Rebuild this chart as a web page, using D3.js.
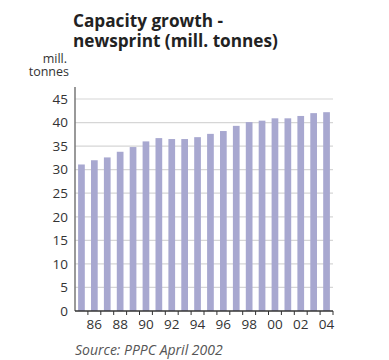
<!DOCTYPE html>
<html><head><meta charset="utf-8">
<script src="https://cdn.jsdelivr.net/npm/d3@7"></script>
<style>body{margin:0;background:#fff}svg{display:block}</style>
</head><body>
<svg id="c" width="389" height="360"></svg>
<script>
const years = [1985,1986,1987,1988,1989,1990,1991,1992,1993,1994,1995,1996,1997,1998,1999,2000,2001,2002,2003,2004];
const capacity = [31.1,32.0,32.6,33.8,34.8,36.0,36.7,36.5,36.5,36.9,37.6,38.2,39.3,40.1,40.4,40.9,40.9,41.4,42.0,42.2];
const yTicks = [0,5,10,15,20,25,30,35,40,45];
const xLabelYears = [1986,1988,1990,1992,1994,1996,1998,2000,2002,2004];
const titleLines = ["Capacity growth -", "newsprint (mill. tonnes)"];
const unitLines = ["mill.", "tonnes"];

(function(){
const svg = d3.select("#c");
const font = "'Open Sans', 'DejaVu Sans', sans-serif";
const pLeft = 75, pRight = 333, pTop = 87, pBottom = 311;

const x = d3.scaleBand().domain(years).range([pLeft, pRight]).paddingInner(0.48).paddingOuter(0.24);
const y = d3.scaleLinear().domain([0, 45]).range([pBottom, 99]);

// title (one text, two lines)
const t = svg.append("text").attr("x", 73).attr("y", 27).attr("font-family", font).attr("font-weight", "bold")
  .attr("font-size", 17.2).attr("fill", "#222");
t.selectAll("tspan").data(titleLines).join("tspan")
  .attr("x", 73).attr("dy", (d, i) => i ? 20 : 0).text(d => d);

// unit (one text, two lines)
const u = svg.append("text").attr("y", 63).attr("text-anchor", "end").attr("font-family", font)
  .attr("font-size", 12.5).attr("fill", "#333");
u.selectAll("tspan").data(unitLines).join("tspan")
  .attr("x", (d, i) => i ? 69 : 67).attr("dy", (d, i) => i ? 13 : 0).text(d => d);

// gridlines
svg.append("g").selectAll("line").data(yTicks.filter(d => d > 0)).join("line")
  .attr("x1", pLeft).attr("x2", pRight).attr("y1", d => y(d)).attr("y2", d => y(d))
  .attr("stroke", "#d6d6d6").attr("stroke-width", 1.2);

// bars
svg.append("g").selectAll("rect").data(years).join("rect")
  .attr("x", d => x(d)).attr("width", x.bandwidth())
  .attr("y", (d, i) => y(capacity[i])).attr("height", (d, i) => y(0) - y(capacity[i]))
  .attr("fill", "#a8a8d0");

// y axis
const yAxis = d3.axisLeft(y).tickValues(yTicks).tickSize(0).tickPadding(7);
const gy = svg.append("g").attr("transform", `translate(${pLeft},0)`).call(yAxis);
gy.select(".domain").remove();
gy.selectAll("text").attr("font-family", font).attr("font-size", 13.5).attr("fill", "#333");
svg.append("line").attr("x1", pLeft).attr("x2", pLeft).attr("y1", pTop).attr("y2", pBottom)
  .attr("stroke", "#777").attr("stroke-width", 1.5);

// x axis
const step = x.step();
const boundaries = years.map(d => x(d) + x.bandwidth() / 2 + step / 2);
svg.append("g").selectAll("line").data(boundaries).join("line")
  .attr("x1", d => d).attr("x2", d => d).attr("y1", pBottom).attr("y2", pBottom + 4)
  .attr("stroke", "#333").attr("stroke-width", 1);
svg.append("line").attr("x1", pLeft).attr("x2", pRight).attr("y1", pBottom).attr("y2", pBottom)
  .attr("stroke", "#333").attr("stroke-width", 1.5);
svg.append("g").selectAll("text").data(xLabelYears).join("text")
  .attr("x", d => x(d) + x.bandwidth() / 2).attr("y", pBottom + 18)
  .attr("text-anchor", "middle").attr("font-family", font).attr("font-size", 13.5).attr("fill", "#333")
  .text(d => String(d % 100).padStart(2, "0"));

// source
svg.append("text").attr("x", 75).attr("y", 355).attr("font-family", font).attr("font-style", "italic")
  .attr("font-size", 14).attr("fill", "#555").text("Source: PPPC April 2002");
})();
</script>
</body></html>
